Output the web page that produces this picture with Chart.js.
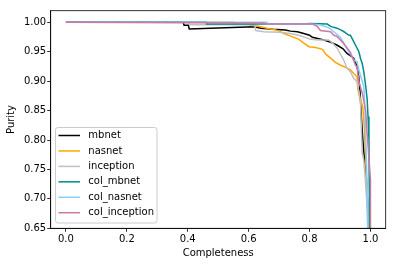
<!DOCTYPE html>
<html>
<head>
<meta charset="utf-8">
<script src="https://cdn.jsdelivr.net/npm/chart.js@4.4.0/dist/chart.umd.min.js"></script>
<style>
html, body { margin: 0; padding: 0; background: #fff; }
</style>
</head>
<body>
<canvas id="prChart" width="395" height="266"></canvas>
<script>
// completeness (x) / purity (y) pairs
const mbnetC = [0, 0.385, 0.388, 0.402, 0.405, 0.617, 0.64, 0.68, 0.72, 0.738, 0.76, 0.781, 0.80, 0.809, 0.83, 0.847, 0.87, 0.891, 0.91, 0.923, 0.935, 0.945, 0.956, 0.961, 0.966, 0.970, 0.975, 0.980, 0.985, 0.990, 0.993];
const mbnetP = [1.0, 1.0, 0.995, 0.995, 0.9886, 0.9925, 0.9898, 0.988, 0.987, 0.985, 0.984, 0.981, 0.978, 0.9745, 0.972, 0.970, 0.966, 0.961, 0.955, 0.947, 0.943, 0.939, 0.9245, 0.910, 0.88, 0.84, 0.80, 0.77, 0.75, 0.70, 0.65];

const nasnetC = [0, 0.55, 0.55, 0.60, 0.605, 0.628, 0.66, 0.689, 0.70, 0.716, 0.74, 0.765, 0.78, 0.798, 0.82, 0.842, 0.855, 0.869, 0.885, 0.902, 0.92, 0.934, 0.945, 0.956, 0.958, 0.965, 0.970, 0.975, 0.980, 0.985, 0.989, 0.992, 0.995];
const nasnetP = [1.0, 1.0, 0.999, 0.999, 0.995, 0.9937, 0.990, 0.987, 0.985, 0.981, 0.976, 0.971, 0.965, 0.9585, 0.957, 0.954, 0.945, 0.939, 0.932, 0.927, 0.923, 0.919, 0.913, 0.9075, 0.888, 0.870, 0.865, 0.855, 0.82, 0.76, 0.70, 0.67, 0.65];

const inceptionC = [0, 0.404, 0.406, 0.62, 0.623, 0.65, 0.70, 0.738, 0.77, 0.803, 0.83, 0.863, 0.875, 0.891, 0.90, 0.912, 0.923, 0.934, 0.945, 0.956, 0.967, 0.970, 0.973, 0.978, 0.982, 0.986, 0.989, 0.991];
const inceptionP = [1.0, 1.0, 0.996, 0.996, 0.986, 0.984, 0.983, 0.981, 0.977, 0.971, 0.970, 0.970, 0.965, 0.9558, 0.947, 0.936, 0.922, 0.916, 0.905, 0.899, 0.868, 0.82, 0.777, 0.766, 0.74, 0.71, 0.687, 0.65];

const colMbnetC = [0, 0.461, 0.462, 0.78, 0.80, 0.858, 0.869, 0.89, 0.902, 0.913, 0.929, 0.934, 0.945, 0.951, 0.962, 0.967, 0.973, 0.978, 0.984, 0.989, 0.992, 0.995, 0.997];
const colMbnetP = [1.0, 1.0, 0.997, 0.997, 0.998, 0.997, 0.993, 0.990, 0.987, 0.984, 0.978, 0.978, 0.967, 0.961, 0.950, 0.939, 0.930, 0.916, 0.893, 0.87, 0.84, 0.80, 0.65];

const colNasnetC = [0, 0.66, 0.661, 0.80, 0.83, 0.852, 0.865, 0.88, 0.90, 0.912, 0.923, 0.935, 0.945, 0.956, 0.962, 0.967, 0.978, 0.982, 0.984, 0.987, 0.989, 0.991];
const colNasnetP = [1.0, 1.0, 0.997, 0.997, 0.996, 0.993, 0.990, 0.984, 0.975, 0.965, 0.955, 0.945, 0.936, 0.933, 0.919, 0.910, 0.891, 0.85, 0.81, 0.76, 0.72, 0.65];

const colInceptionC = [0, 0.57, 0.65, 0.651, 0.78, 0.81, 0.825, 0.836, 0.869, 0.88, 0.89, 0.912, 0.934, 0.951, 0.956, 0.962, 0.973, 0.984, 0.989, 0.995, 1.0, 1.0];
const colInceptionP = [1.0, 0.999, 0.999, 0.997, 0.997, 0.997, 0.993, 0.986, 0.984, 0.978, 0.976, 0.964, 0.949, 0.927, 0.924, 0.899, 0.88, 0.851, 0.811, 0.77, 0.732, 0.65];

const seriesNames = ['mbnet', 'nasnet', 'inception', 'col_mbnet', 'col_nasnet', 'col_inception'];
const seriesColors = ['#000000', '#FFA500', '#C0C0C0', '#008B8B', '#87CEFA', '#CC79A7'];
const xTicks = [0.0, 0.2, 0.4, 0.6, 0.8, 1.0];
const yTicks = [0.65, 0.70, 0.75, 0.80, 0.85, 0.90, 0.95, 1.00];

const allC = [mbnetC, nasnetC, inceptionC, colMbnetC, colNasnetC, colInceptionC];
const allP = [mbnetP, nasnetP, inceptionP, colMbnetP, colNasnetP, colInceptionP];

Chart.defaults.font.family = 'DejaVu Sans';
Chart.defaults.font.size = 10;
Chart.defaults.color = '#000';

// matplotlib-like box round the axes
const framePlugin = {
    id: 'frame',
    afterDraw(chart) {
        const a = chart.chartArea;
        const c = chart.ctx;
        c.save();
        c.strokeStyle = '#000';
        c.lineWidth = 0.8;
        c.strokeRect(a.left, a.top, a.right - a.left, a.bottom - a.top);
        c.restore();
    }
};

// legend inside the plot, lower left
const innerLegend = {
    id: 'innerLegend',
    afterDraw(chart) {
        const c = chart.ctx;
        const x0 = 55.5, y0 = 127.5, w = 101.5, h = 95.5;
        c.save();
        c.beginPath();
        c.roundRect(x0, y0, w, h, 2.5);
        c.fillStyle = 'rgba(255,255,255,0.8)';
        c.fill();
        c.strokeStyle = '#cccccc';
        c.lineWidth = 1;
        c.stroke();
        c.font = '10px "DejaVu Sans"';
        c.textBaseline = 'middle';
        c.fillStyle = '#000';
        seriesNames.forEach((name, i) => {
            const y = 135.5 + i * 15.45;
            c.beginPath();
            c.moveTo(58.5, y);
            c.lineTo(80, y);
            c.strokeStyle = seriesColors[i];
            c.lineWidth = 1.5;
            c.stroke();
            c.fillText(name, 88.3, y);
        });
        c.restore();
    }
};

const ctx = document.getElementById('prChart').getContext('2d');
const prChart = new Chart(ctx, {
    type: 'scatter',
    data: {
        datasets: seriesNames.map((name, i) => ({
            label: name,
            data: allC[i].map((cv, j) => ({ x: cv, y: allP[i][j] })),
            showLine: true,
            borderColor: seriesColors[i],
            borderWidth: 1.5,
            pointRadius: 0,
            fill: false,
            order: seriesNames.length - i
        }))
    },
    plugins: [framePlugin, innerLegend],
    options: {
        responsive: false,
        animation: false,
        devicePixelRatio: 1,
        layout: { padding: { left: 0, right: 9.3, top: 10.7, bottom: 0 } },
        plugins: {
            legend: { display: false },
            tooltip: { enabled: false }
        },
        scales: {
            x: {
                type: 'linear',
                min: -0.05,
                max: 1.05,
                afterBuildTicks: s => { s.ticks = xTicks.map(v => ({ value: v })); },
                afterFit: s => { s.height = 37.7; },
                ticks: {
                    callback: v => v.toFixed(1),
                    maxRotation: 0,
                    autoSkip: false,
                    padding: 2
                },
                grid: { drawOnChartArea: false, tickLength: 3.5, color: '#000', lineWidth: 0.8 },
                border: { display: true, color: '#000', width: 0.8 },
                title: {
                    display: true,
                    text: 'Completeness',
                    padding: { top: 0, bottom: 6.7 }
                }
            },
            y: {
                type: 'linear',
                min: 0.65,
                max: 1.0197,
                afterBuildTicks: s => { s.ticks = yTicks.map(v => ({ value: v })); },
                afterFit: s => { s.width = 50.7; },
                ticks: {
                    callback: v => v.toFixed(2),
                    autoSkip: false,
                    padding: 1
                },
                grid: { drawOnChartArea: false, tickLength: 3.5, color: '#000', lineWidth: 0.8 },
                border: { display: true, color: '#000', width: 0.8 },
                title: {
                    display: true,
                    text: 'Purity',
                    padding: { top: 5.7, bottom: 0 }
                }
            }
        }
    }
});
</script>
</body>
</html>
